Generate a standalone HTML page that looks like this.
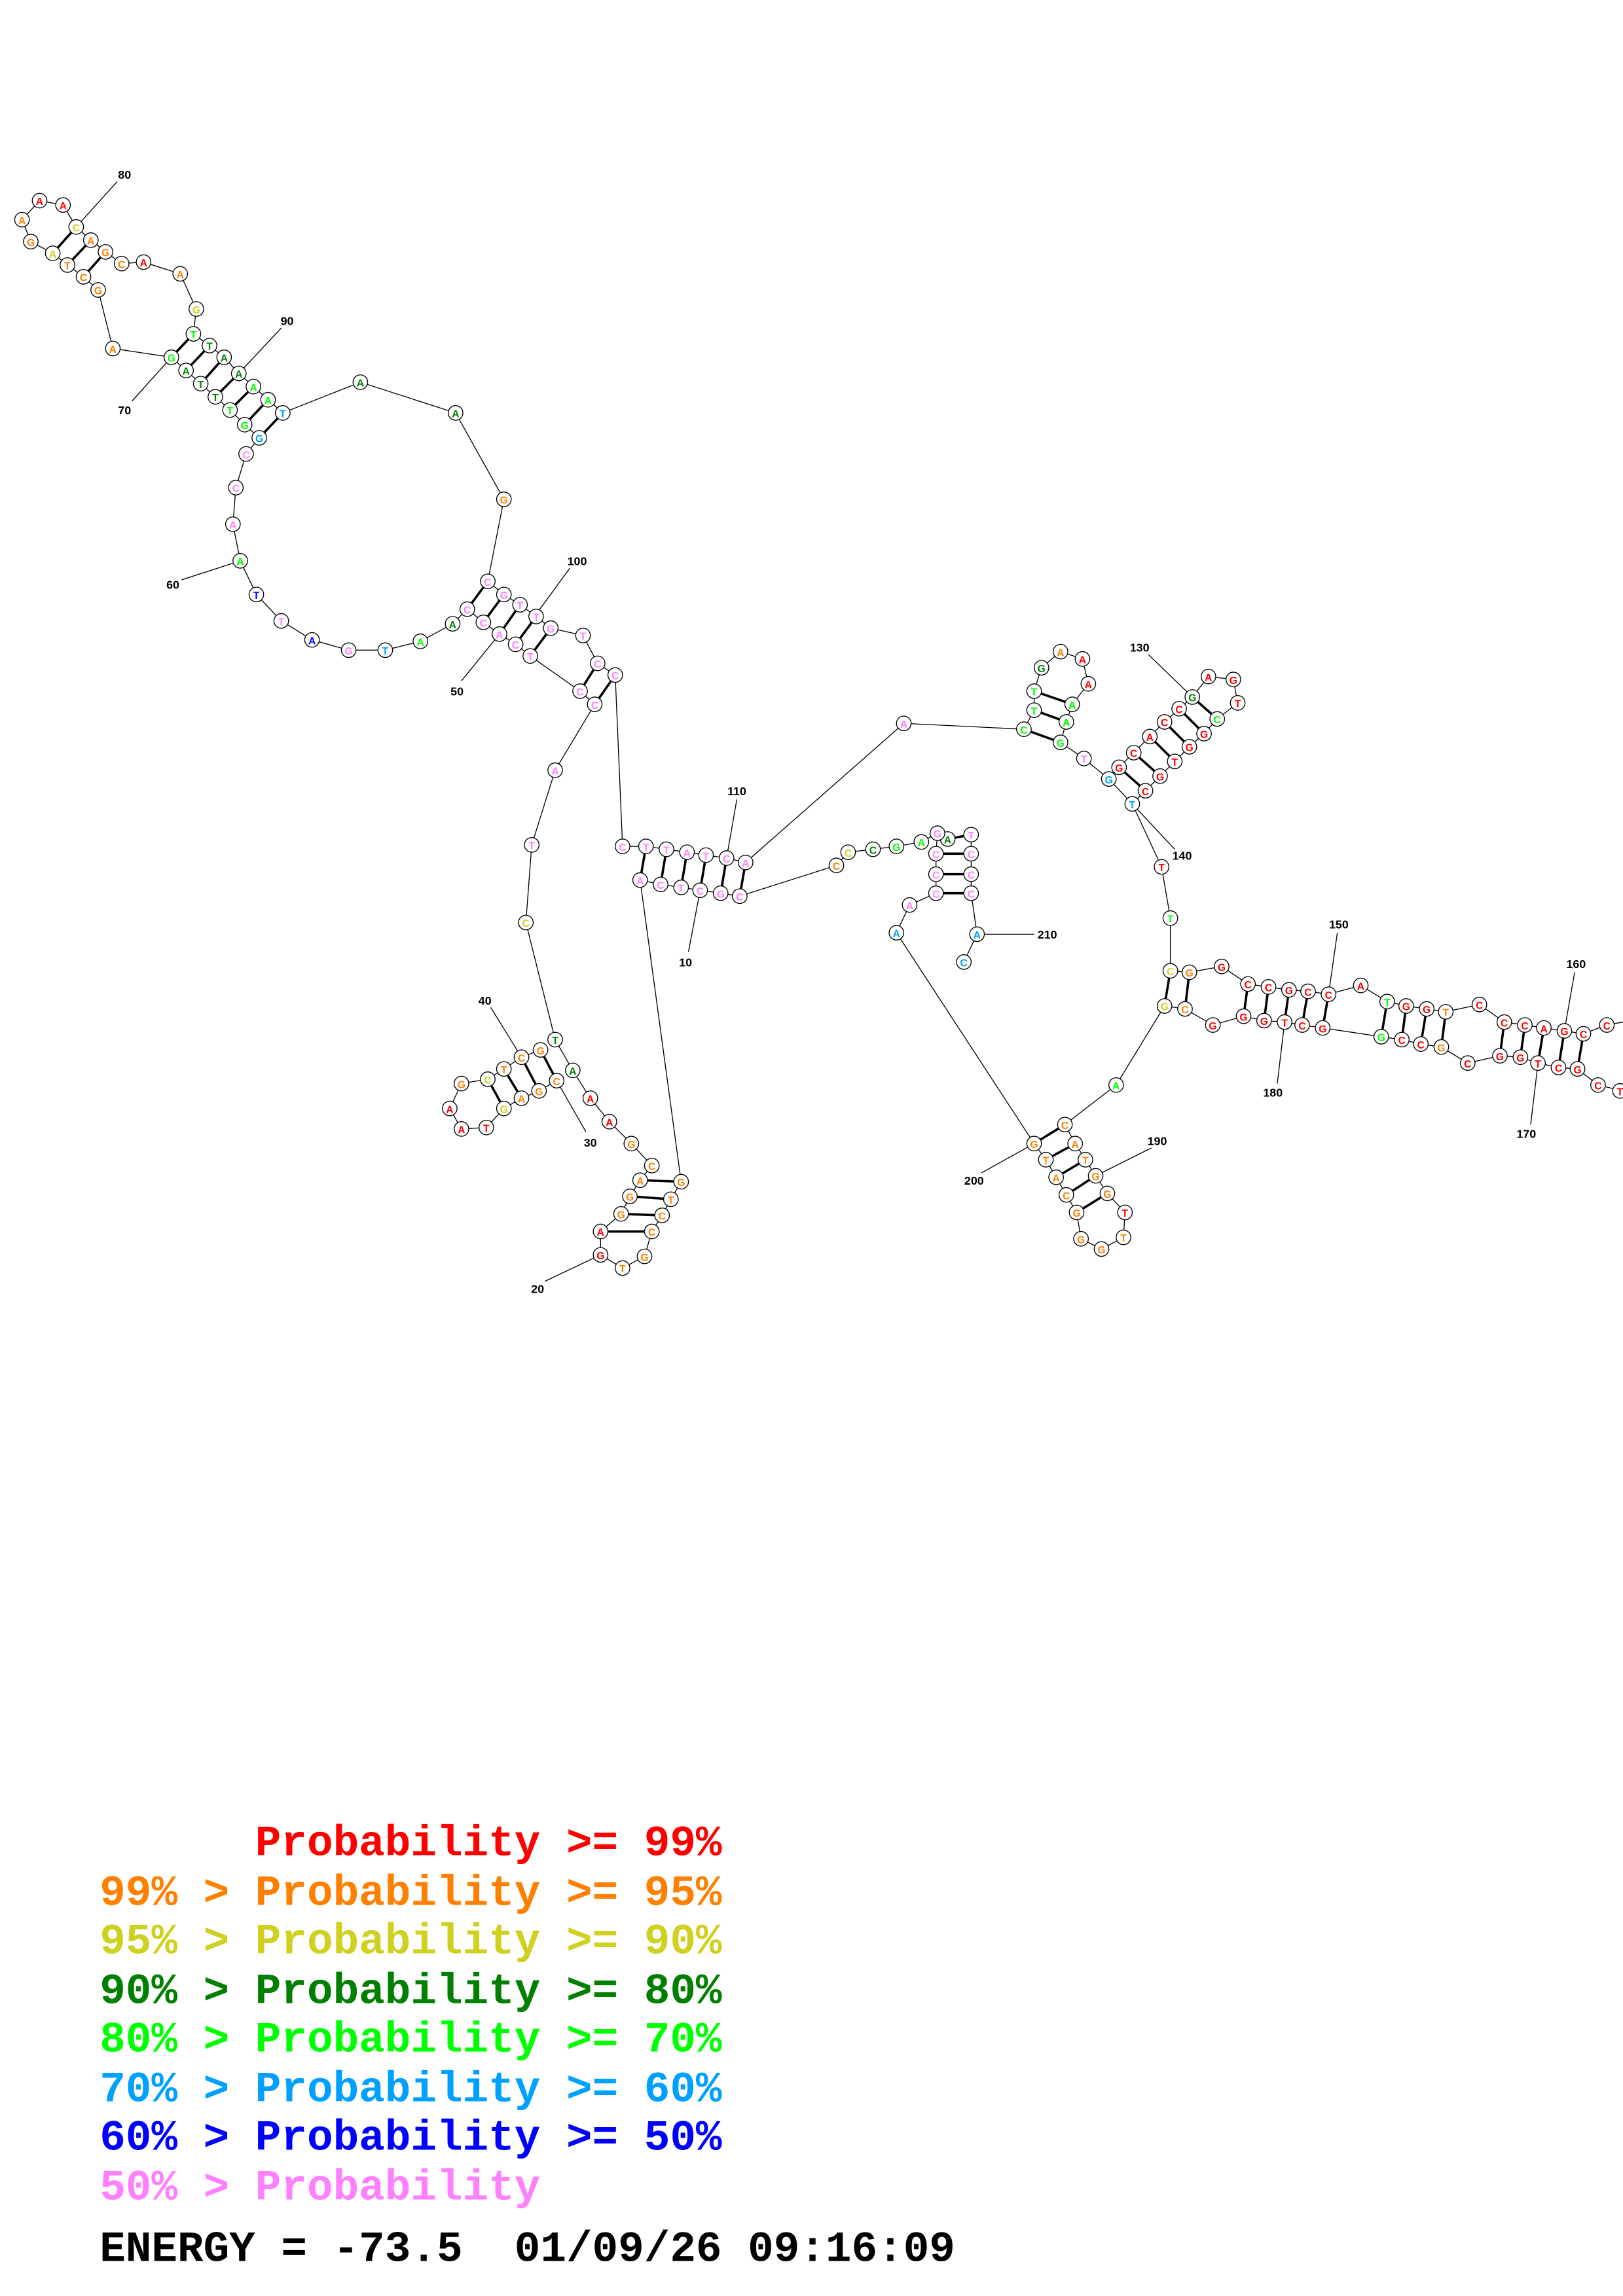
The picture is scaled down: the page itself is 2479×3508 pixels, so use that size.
<!DOCTYPE html>
<html><head><meta charset="utf-8"><style>
html,body{margin:0;padding:0;background:#fff}
svg{display:block}
.n circle{fill:#fff;stroke:#000;stroke-width:0.6}
.n text{font-family:"Liberation Sans",sans-serif;font-size:7px;font-weight:bold;text-anchor:middle}
.r text{fill:#ff0000}.o text{fill:#ff8000}.y text{fill:#d0d020}.d text{fill:#008000}.g text{fill:#00ff00}.b text{fill:#00a0ff}.u text{fill:#0000ff}.p text{fill:#ff80ff}
.lab{font-family:"Liberation Sans",sans-serif;font-size:8px;font-weight:bold;fill:#000;text-anchor:middle}
.leg{font-family:"Liberation Mono",monospace;font-size:29.5px;font-weight:bold}
</style></head><body>
<svg width="2479" height="3508" viewBox="0 0 1108 1568" xmlns="http://www.w3.org/2000/svg">
<g fill="none" stroke="#000" stroke-width="0.6">
<polyline points="27,137 43,140 52,155 62,164 72,172 83,180 98,179 123,187 134,211 132,228 143,236 153,244 163,255 173,264 183,273 193,282 246,261 311,282 344,341 333,397 344,406 355,413 366,421 376,429 398,434 408,453 420,461 425,578 441,578 455,580 469,582 482,584 496,586 509,589 617,494 699,498 724,507 740,518 757,532 773,549 793,592 799,627 799,663 812,664 834,660 852,672 866,674 880,676 893,677 907,679 929,673 947,684 960,687 974,689 987,691 1010,686 1027,698 1041,700 1054,702 1068,704 1081,706 1097,700 1108,698"/>
<polyline points="27,137 15,150 21,165 36,173 46,181 57,189 67,198 77,238 117,244 127,253 137,262 147,271 157,280 167,290 177,299 168,310 161,333 159,358 164,383 175,406 192,424 213,437 238,444 263,444 287,438 309,426 319,416 330,425 341,433 352,440 362,448 396,472 406,481 379,526 363,577 359,630 379,710 391,731 403,750 416,766 431,781 445,796 437,806 430,817 424,829 410,841 410,857 425,866 440,858 445,841 452,830 458,819 465,807"/>
<polyline points="465,807 437,601 451,604 465,606 478,608 492,610 505,612 571,591 579,582 596,580 612,578 629,575 640,569 647,573 663,570 663,583 663,597 663,610 667,638 658,657"/>
<polyline points="369,717 380,738 368,745 356,750 344,757 332,770 315,771 307,757 315,740 333,737 344,730 356,722 369,717"/>
<polyline points="640,569 639,583 639,597 639,610 621,618 612,637 706,781 714,792 721,804 728,816 735,828 738,846 752,853 767,845 768,828 756,815 748,803 741,792 734,781 727,768 762,741 795,687 809,689 828,700 849,694 863,697 877,698 889,700 903,702 943,708 957,710 970,713 984,715 1002,726 1024,721 1038,722 1050,726 1064,729 1077,730 1091,741 1108,745"/>
<polyline points="699,498 706,485 706,472 711,456 724,445 739,450 743,467 732,481 728,493 724,507"/>
<polyline points="757,532 764,524 774,514 785,503 795,493 805,484 814,476 825,462 842,464 845,480 831,491 822,501 812,510 802,520 792,530 782,540 773,549"/>
<line x1="667" y1="638" x2="706" y2="638"/>
<line x1="52" y1="155" x2="80" y2="124"/><line x1="163" y1="255" x2="192" y2="224"/><line x1="117" y1="244" x2="90" y2="274"/>
<line x1="164" y1="383" x2="124" y2="396"/><line x1="362" y1="425" x2="389" y2="388"/><line x1="341" y1="433" x2="315" y2="465"/>
<line x1="356" y1="722" x2="335" y2="688"/><line x1="380" y1="738" x2="400" y2="773"/><line x1="410" y1="857" x2="372" y2="875"/>
<line x1="478" y1="608" x2="470" y2="650"/><line x1="496" y1="586" x2="503" y2="546"/><line x1="814" y1="476" x2="784" y2="447"/>
<line x1="773" y1="549" x2="802" y2="580"/><line x1="907" y1="679" x2="913" y2="637"/><line x1="1068" y1="704" x2="1075" y2="664"/>
<line x1="1050" y1="726" x2="1045" y2="768"/><line x1="877" y1="698" x2="872" y2="740"/><line x1="748" y1="803" x2="786" y2="784"/><line x1="706" y1="781" x2="670" y2="801"/>
</g>
<g stroke="#000" stroke-width="1.6">
<line x1="36" y1="173" x2="52" y2="155"/><line x1="46" y1="181" x2="62" y2="164"/><line x1="57" y1="189" x2="72" y2="172"/>
<line x1="117" y1="244" x2="132" y2="228"/><line x1="127" y1="253" x2="143" y2="236"/><line x1="137" y1="262" x2="153" y2="244"/><line x1="147" y1="271" x2="163" y2="255"/><line x1="157" y1="280" x2="173" y2="264"/><line x1="167" y1="290" x2="183" y2="273"/><line x1="177" y1="299" x2="193" y2="282"/>
<line x1="319" y1="416" x2="333" y2="397"/><line x1="330" y1="425" x2="344" y2="406"/><line x1="341" y1="433" x2="355" y2="413"/><line x1="352" y1="440" x2="366" y2="421"/><line x1="362" y1="448" x2="376" y2="429"/>
<line x1="396" y1="472" x2="408" y2="453"/><line x1="406" y1="481" x2="420" y2="461"/>
<line x1="356" y1="722" x2="368" y2="745"/><line x1="344" y1="730" x2="356" y2="750"/><line x1="333" y1="737" x2="344" y2="757"/><line x1="369" y1="717" x2="380" y2="738"/>
<line x1="424" y1="829" x2="452" y2="830"/><line x1="430" y1="817" x2="458" y2="819"/><line x1="437" y1="806" x2="465" y2="807"/><line x1="410" y1="841" x2="445" y2="841"/>
<line x1="441" y1="578" x2="437" y2="601"/><line x1="455" y1="580" x2="451" y2="604"/><line x1="469" y1="582" x2="465" y2="606"/><line x1="482" y1="584" x2="478" y2="608"/><line x1="496" y1="586" x2="492" y2="610"/><line x1="509" y1="589" x2="505" y2="612"/>
<line x1="663" y1="583" x2="639" y2="583"/><line x1="663" y1="597" x2="639" y2="597"/><line x1="663" y1="610" x2="639" y2="610"/><line x1="647" y1="573" x2="663" y2="570"/>
<line x1="706" y1="485" x2="728" y2="493"/><line x1="706" y1="472" x2="732" y2="481"/><line x1="699" y1="498" x2="724" y2="507"/>
<line x1="764" y1="524" x2="782" y2="540"/><line x1="774" y1="514" x2="792" y2="530"/><line x1="785" y1="503" x2="802" y2="520"/><line x1="795" y1="493" x2="812" y2="510"/><line x1="805" y1="484" x2="822" y2="501"/><line x1="814" y1="476" x2="831" y2="491"/>
<line x1="812" y1="664" x2="809" y2="689"/><line x1="799" y1="663" x2="795" y2="687"/><line x1="852" y1="672" x2="849" y2="694"/><line x1="866" y1="674" x2="863" y2="697"/><line x1="880" y1="676" x2="877" y2="698"/><line x1="893" y1="677" x2="889" y2="700"/><line x1="907" y1="679" x2="903" y2="702"/><line x1="947" y1="684" x2="943" y2="708"/><line x1="960" y1="687" x2="957" y2="710"/><line x1="974" y1="689" x2="970" y2="713"/><line x1="987" y1="691" x2="984" y2="715"/><line x1="1027" y1="698" x2="1024" y2="721"/><line x1="1041" y1="700" x2="1038" y2="722"/><line x1="1054" y1="702" x2="1050" y2="726"/><line x1="1068" y1="704" x2="1064" y2="729"/><line x1="1081" y1="706" x2="1077" y2="730"/>
<line x1="727" y1="768" x2="706" y2="781"/><line x1="734" y1="781" x2="714" y2="792"/><line x1="741" y1="792" x2="721" y2="804"/><line x1="748" y1="803" x2="728" y2="816"/><line x1="756" y1="815" x2="735" y2="828"/>
</g>
<g class="n">
<g class="r"><circle cx="27" cy="137" r="5"/><text x="27" y="140">A</text><circle cx="43" cy="140" r="5"/><text x="43" y="143">A</text><circle cx="98" cy="179" r="5"/><text x="98" y="182">A</text>
<circle cx="403" cy="750" r="5"/><text x="403" y="753">A</text><circle cx="416" cy="766" r="5"/><text x="416" y="769">A</text><circle cx="410" cy="857" r="5"/><text x="410" y="860">G</text><circle cx="410" cy="841" r="5"/><text x="410" y="844">A</text>
<circle cx="307" cy="757" r="5"/><text x="307" y="760">A</text><circle cx="315" cy="771" r="5"/><text x="315" y="774">A</text><circle cx="332" cy="770" r="5"/><text x="332" y="773">T</text>
<circle cx="739" cy="450" r="5"/><text x="739" y="453">A</text><circle cx="743" cy="467" r="5"/><text x="743" y="470">A</text>
<circle cx="764" cy="524" r="5"/><text x="764" y="527">G</text><circle cx="782" cy="540" r="5"/><text x="782" y="543">C</text><circle cx="774" cy="514" r="5"/><text x="774" y="517">C</text><circle cx="792" cy="530" r="5"/><text x="792" y="533">G</text><circle cx="785" cy="503" r="5"/><text x="785" y="506">A</text><circle cx="802" cy="520" r="5"/><text x="802" y="523">T</text><circle cx="795" cy="493" r="5"/><text x="795" y="496">C</text><circle cx="812" cy="510" r="5"/><text x="812" y="513">G</text><circle cx="805" cy="484" r="5"/><text x="805" y="487">C</text><circle cx="822" cy="501" r="5"/><text x="822" y="504">G</text><circle cx="825" cy="462" r="5"/><text x="825" y="465">A</text><circle cx="842" cy="464" r="5"/><text x="842" y="467">G</text><circle cx="845" cy="480" r="5"/><text x="845" y="483">T</text>
<circle cx="793" cy="592" r="5"/><text x="793" y="595">T</text>
<circle cx="834" cy="660" r="5"/><text x="834" y="663">G</text><circle cx="828" cy="700" r="5"/><text x="828" y="703">G</text><circle cx="852" cy="672" r="5"/><text x="852" y="675">C</text><circle cx="849" cy="694" r="5"/><text x="849" y="697">G</text><circle cx="866" cy="674" r="5"/><text x="866" y="677">C</text><circle cx="863" cy="697" r="5"/><text x="863" y="700">G</text><circle cx="880" cy="676" r="5"/><text x="880" y="679">G</text><circle cx="877" cy="698" r="5"/><text x="877" y="701">T</text><circle cx="893" cy="677" r="5"/><text x="893" y="680">C</text><circle cx="889" cy="700" r="5"/><text x="889" y="703">C</text><circle cx="907" cy="679" r="5"/><text x="907" y="682">C</text><circle cx="903" cy="702" r="5"/><text x="903" y="705">G</text><circle cx="929" cy="673" r="5"/><text x="929" y="676">A</text>
<circle cx="960" cy="687" r="5"/><text x="960" y="690">G</text><circle cx="957" cy="710" r="5"/><text x="957" y="713">C</text><circle cx="974" cy="689" r="5"/><text x="974" y="692">G</text><circle cx="970" cy="713" r="5"/><text x="970" y="716">C</text>
<circle cx="1010" cy="686" r="5"/><text x="1010" y="689">C</text><circle cx="1002" cy="726" r="5"/><text x="1002" y="729">C</text><circle cx="1027" cy="698" r="5"/><text x="1027" y="701">C</text><circle cx="1024" cy="721" r="5"/><text x="1024" y="724">G</text><circle cx="1041" cy="700" r="5"/><text x="1041" y="703">C</text><circle cx="1038" cy="722" r="5"/><text x="1038" y="725">G</text><circle cx="1054" cy="702" r="5"/><text x="1054" y="705">A</text><circle cx="1050" cy="726" r="5"/><text x="1050" y="729">T</text><circle cx="1068" cy="704" r="5"/><text x="1068" y="707">G</text><circle cx="1064" cy="729" r="5"/><text x="1064" y="732">C</text><circle cx="1081" cy="706" r="5"/><text x="1081" y="709">C</text><circle cx="1077" cy="730" r="5"/><text x="1077" y="733">G</text><circle cx="1097" cy="700" r="5"/><text x="1097" y="703">C</text><circle cx="1091" cy="741" r="5"/><text x="1091" y="744">C</text><circle cx="1106" cy="745" r="5"/><text x="1106" y="748">T</text>
<circle cx="768" cy="828" r="5"/><text x="768" y="831">T</text></g>
<g class="o"><circle cx="15" cy="150" r="5"/><text x="15" y="153">A</text><circle cx="21" cy="165" r="5"/><text x="21" y="168">G</text><circle cx="62" cy="164" r="5"/><text x="62" y="167">A</text><circle cx="72" cy="172" r="5"/><text x="72" y="175">G</text><circle cx="46" cy="181" r="5"/><text x="46" y="184">T</text><circle cx="83" cy="180" r="5"/><text x="83" y="183">C</text><circle cx="57" cy="189" r="5"/><text x="57" y="192">C</text><circle cx="67" cy="198" r="5"/><text x="67" y="201">G</text><circle cx="123" cy="187" r="5"/><text x="123" y="190">A</text><circle cx="77" cy="238" r="5"/><text x="77" y="241">A</text>
<circle cx="344" cy="341" r="5"/><text x="344" y="344">G</text>
<circle cx="431" cy="781" r="5"/><text x="431" y="784">G</text><circle cx="445" cy="796" r="5"/><text x="445" y="799">C</text><circle cx="465" cy="807" r="5"/><text x="465" y="810">G</text><circle cx="458" cy="819" r="5"/><text x="458" y="822">T</text><circle cx="452" cy="830" r="5"/><text x="452" y="833">C</text><circle cx="445" cy="841" r="5"/><text x="445" y="844">C</text><circle cx="440" cy="858" r="5"/><text x="440" y="861">G</text><circle cx="425" cy="866" r="5"/><text x="425" y="869">T</text><circle cx="424" cy="829" r="5"/><text x="424" y="832">G</text><circle cx="430" cy="817" r="5"/><text x="430" y="820">G</text><circle cx="437" cy="806" r="5"/><text x="437" y="809">A</text>
<circle cx="369" cy="717" r="5"/><text x="369" y="720">G</text><circle cx="380" cy="738" r="5"/><text x="380" y="741">C</text><circle cx="356" cy="722" r="5"/><text x="356" y="725">C</text><circle cx="368" cy="745" r="5"/><text x="368" y="748">G</text><circle cx="344" cy="730" r="5"/><text x="344" y="733">T</text><circle cx="356" cy="750" r="5"/><text x="356" y="753">A</text><circle cx="315" cy="740" r="5"/><text x="315" y="743">G</text>
<circle cx="571" cy="591" r="5"/><text x="571" y="594">C</text><circle cx="724" cy="445" r="5"/><text x="724" y="448">A</text>
<circle cx="812" cy="664" r="5"/><text x="812" y="667">G</text><circle cx="809" cy="689" r="5"/><text x="809" y="692">C</text><circle cx="987" cy="691" r="5"/><text x="987" y="694">T</text><circle cx="984" cy="715" r="5"/><text x="984" y="718">G</text>
<circle cx="727" cy="768" r="5"/><text x="727" y="771">C</text><circle cx="706" cy="781" r="5"/><text x="706" y="784">G</text><circle cx="734" cy="781" r="5"/><text x="734" y="784">A</text><circle cx="714" cy="792" r="5"/><text x="714" y="795">T</text><circle cx="741" cy="792" r="5"/><text x="741" y="795">T</text><circle cx="721" cy="804" r="5"/><text x="721" y="807">A</text><circle cx="748" cy="803" r="5"/><text x="748" y="806">G</text><circle cx="728" cy="816" r="5"/><text x="728" y="819">C</text><circle cx="756" cy="815" r="5"/><text x="756" y="818">G</text><circle cx="735" cy="828" r="5"/><text x="735" y="831">G</text><circle cx="767" cy="845" r="5"/><text x="767" y="848">T</text><circle cx="752" cy="853" r="5"/><text x="752" y="856">G</text><circle cx="738" cy="846" r="5"/><text x="738" y="849">G</text></g>
<g class="y"><circle cx="52" cy="155" r="5"/><text x="52" y="158">C</text><circle cx="36" cy="173" r="5"/><text x="36" y="176">A</text><circle cx="134" cy="211" r="5"/><text x="134" y="214">G</text><circle cx="359" cy="630" r="5"/><text x="359" y="633">C</text><circle cx="333" cy="737" r="5"/><text x="333" y="740">C</text><circle cx="344" cy="757" r="5"/><text x="344" y="760">G</text><circle cx="579" cy="582" r="5"/><text x="579" y="585">C</text><circle cx="799" cy="663" r="5"/><text x="799" y="666">C</text><circle cx="795" cy="687" r="5"/><text x="795" y="690">G</text></g>
<g class="d"><circle cx="143" cy="236" r="5"/><text x="143" y="239">T</text><circle cx="153" cy="244" r="5"/><text x="153" y="247">A</text><circle cx="127" cy="253" r="5"/><text x="127" y="256">A</text><circle cx="137" cy="262" r="5"/><text x="137" y="265">T</text><circle cx="163" cy="255" r="5"/><text x="163" y="258">A</text><circle cx="147" cy="271" r="5"/><text x="147" y="274">T</text><circle cx="246" cy="261" r="5"/><text x="246" y="264">A</text><circle cx="311" cy="282" r="5"/><text x="311" y="285">A</text><circle cx="309" cy="426" r="5"/><text x="309" y="429">A</text><circle cx="379" cy="710" r="5"/><text x="379" y="713">T</text><circle cx="391" cy="731" r="5"/><text x="391" y="734">A</text><circle cx="596" cy="580" r="5"/><text x="596" y="583">C</text><circle cx="647" cy="573" r="5"/><text x="647" y="576">A</text><circle cx="711" cy="456" r="5"/><text x="711" y="459">G</text><circle cx="814" cy="476" r="5"/><text x="814" y="479">G</text></g>
<g class="g"><circle cx="117" cy="244" r="5"/><text x="117" y="247">G</text><circle cx="132" cy="228" r="5"/><text x="132" y="231">T</text><circle cx="173" cy="264" r="5"/><text x="173" y="267">A</text><circle cx="157" cy="280" r="5"/><text x="157" y="283">T</text><circle cx="183" cy="273" r="5"/><text x="183" y="276">A</text><circle cx="167" cy="290" r="5"/><text x="167" y="293">G</text><circle cx="164" cy="383" r="5"/><text x="164" y="386">A</text><circle cx="287" cy="438" r="5"/><text x="287" y="441">A</text><circle cx="612" cy="578" r="5"/><text x="612" y="581">G</text><circle cx="629" cy="575" r="5"/><text x="629" y="578">A</text><circle cx="699" cy="498" r="5"/><text x="699" y="501">C</text><circle cx="724" cy="507" r="5"/><text x="724" y="510">G</text><circle cx="706" cy="485" r="5"/><text x="706" y="488">T</text><circle cx="728" cy="493" r="5"/><text x="728" y="496">A</text><circle cx="706" cy="472" r="5"/><text x="706" y="475">T</text><circle cx="732" cy="481" r="5"/><text x="732" y="484">A</text><circle cx="831" cy="491" r="5"/><text x="831" y="494">C</text><circle cx="799" cy="627" r="5"/><text x="799" y="630">T</text><circle cx="947" cy="684" r="5"/><text x="947" y="687">T</text><circle cx="943" cy="708" r="5"/><text x="943" y="711">G</text><circle cx="762" cy="741" r="5"/><text x="762" y="744">A</text></g>
<g class="b"><circle cx="193" cy="282" r="5"/><text x="193" y="285">T</text><circle cx="177" cy="299" r="5"/><text x="177" y="302">G</text><circle cx="263" cy="444" r="5"/><text x="263" y="447">T</text><circle cx="612" cy="637" r="5"/><text x="612" y="640">A</text><circle cx="667" cy="638" r="5"/><text x="667" y="641">A</text><circle cx="658" cy="657" r="5"/><text x="658" y="660">C</text><circle cx="757" cy="532" r="5"/><text x="757" y="535">G</text><circle cx="773" cy="549" r="5"/><text x="773" y="552">T</text></g>
<g class="u"><circle cx="175" cy="406" r="5"/><text x="175" y="409">T</text><circle cx="213" cy="437" r="5"/><text x="213" y="440">A</text></g>
<g class="p"><circle cx="168" cy="310" r="5"/><text x="168" y="313">C</text><circle cx="161" cy="333" r="5"/><text x="161" y="336">C</text><circle cx="159" cy="358" r="5"/><text x="159" y="361">A</text><circle cx="192" cy="424" r="5"/><text x="192" y="427">T</text><circle cx="238" cy="444" r="5"/><text x="238" y="447">G</text>
<circle cx="319" cy="416" r="5"/><text x="319" y="419">C</text><circle cx="333" cy="397" r="5"/><text x="333" y="400">C</text><circle cx="330" cy="425" r="5"/><text x="330" y="428">C</text><circle cx="344" cy="406" r="5"/><text x="344" y="409">G</text><circle cx="341" cy="433" r="5"/><text x="341" y="436">A</text><circle cx="355" cy="413" r="5"/><text x="355" y="416">T</text><circle cx="352" cy="440" r="5"/><text x="352" y="443">C</text><circle cx="366" cy="421" r="5"/><text x="366" y="424">T</text><circle cx="362" cy="448" r="5"/><text x="362" y="451">T</text><circle cx="376" cy="429" r="5"/><text x="376" y="432">G</text><circle cx="398" cy="434" r="5"/><text x="398" y="437">T</text><circle cx="408" cy="453" r="5"/><text x="408" y="456">C</text><circle cx="420" cy="461" r="5"/><text x="420" y="464">C</text><circle cx="396" cy="472" r="5"/><text x="396" y="475">C</text><circle cx="406" cy="481" r="5"/><text x="406" y="484">C</text><circle cx="379" cy="526" r="5"/><text x="379" y="529">A</text><circle cx="363" cy="577" r="5"/><text x="363" y="580">T</text>
<circle cx="425" cy="578" r="5"/><text x="425" y="581">C</text><circle cx="441" cy="578" r="5"/><text x="441" y="581">T</text><circle cx="455" cy="580" r="5"/><text x="455" y="583">T</text><circle cx="469" cy="582" r="5"/><text x="469" y="585">A</text><circle cx="482" cy="584" r="5"/><text x="482" y="587">T</text><circle cx="496" cy="586" r="5"/><text x="496" y="589">C</text><circle cx="509" cy="589" r="5"/><text x="509" y="592">A</text><circle cx="437" cy="601" r="5"/><text x="437" y="604">A</text><circle cx="451" cy="604" r="5"/><text x="451" y="607">C</text><circle cx="465" cy="606" r="5"/><text x="465" y="609">T</text><circle cx="478" cy="608" r="5"/><text x="478" y="611">C</text><circle cx="492" cy="610" r="5"/><text x="492" y="613">G</text><circle cx="505" cy="612" r="5"/><text x="505" y="615">C</text>
<circle cx="640" cy="569" r="5"/><text x="640" y="572">G</text><circle cx="663" cy="570" r="5"/><text x="663" y="573">T</text><circle cx="663" cy="583" r="5"/><text x="663" y="586">C</text><circle cx="663" cy="597" r="5"/><text x="663" y="600">C</text><circle cx="663" cy="610" r="5"/><text x="663" y="613">C</text><circle cx="639" cy="583" r="5"/><text x="639" y="586">C</text><circle cx="639" cy="597" r="5"/><text x="639" y="600">C</text><circle cx="639" cy="610" r="5"/><text x="639" y="613">C</text><circle cx="621" cy="618" r="5"/><text x="621" y="621">A</text><circle cx="617" cy="494" r="5"/><text x="617" y="497">A</text><circle cx="740" cy="518" r="5"/><text x="740" y="521">T</text></g>
</g>
<g class="lab">
<text x="85" y="122">80</text><text x="196" y="222">90</text><text x="85" y="283">70</text><text x="118" y="402">60</text><text x="394" y="386">100</text><text x="312" y="475">50</text><text x="331" y="686">40</text><text x="403" y="783">30</text><text x="367" y="883">20</text><text x="468" y="660">10</text><text x="503" y="543">110</text><text x="778" y="445">130</text><text x="807" y="587">140</text><text x="914" y="634">150</text><text x="1076" y="661">160</text><text x="1042" y="777">170</text><text x="869" y="749">180</text><text x="790" y="782">190</text><text x="665" y="809">200</text><text x="715" y="641">210</text>
</g>
<g class="leg">
<text x="68" y="1267" fill="#ff0000" xml:space="preserve">      Probability &gt;= 99%</text>
<text x="68" y="1301" fill="#ff8000">99% &gt; Probability &gt;= 95%</text>
<text x="68" y="1334" fill="#d0d020">95% &gt; Probability &gt;= 90%</text>
<text x="68" y="1368" fill="#008000">90% &gt; Probability &gt;= 80%</text>
<text x="68" y="1401" fill="#00ff00">80% &gt; Probability &gt;= 70%</text>
<text x="68" y="1435" fill="#00a0ff">70% &gt; Probability &gt;= 60%</text>
<text x="68" y="1468" fill="#0000ff">60% &gt; Probability &gt;= 50%</text>
<text x="68" y="1502" fill="#ff80ff">50% &gt; Probability</text>
<text x="68" y="1544" fill="#000" xml:space="preserve">ENERGY = -73.5  01/09/26 09:16:09</text>
</g>
</svg>
</body></html>
